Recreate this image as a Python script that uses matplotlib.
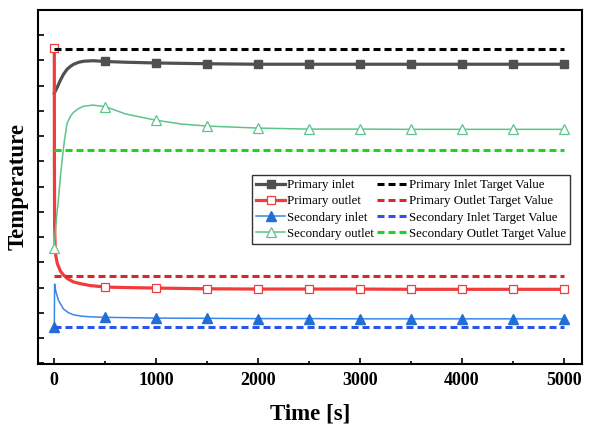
import numpy as np
import matplotlib.pyplot as plt
from matplotlib.ticker import MultipleLocator

plt.rcParams['font.family'] = ['Liberation Serif', 'DejaVu Serif']

# Datos (unidades arbitrarias de temperatura)
t_pin = [0, 30, 60, 90, 125, 160, 190, 240, 290, 380, 500, 700, 1000, 1500, 2000,
         2500, 3000, 3500, 4000, 4500, 5000]
pin = [9.70, 9.95, 10.22, 10.45, 10.65, 10.77, 10.85, 10.93, 10.97, 10.99, 10.96, 10.93,
       10.90, 10.87, 10.85, 10.85, 10.85, 10.85, 10.85, 10.85, 10.85]

t_pout = [0, 1, 3, 8, 15, 30, 60, 90, 130, 190, 260, 350, 500, 700, 1000, 1500, 2000,
          2500, 3000, 3500, 4000, 4500, 5000]
pout = [11.49, 7.0, 4.5, 3.6, 3.25, 2.95, 2.65, 2.5, 2.35, 2.22, 2.15, 2.08, 2.02, 2.0,
        1.98, 1.95, 1.94, 1.94, 1.94, 1.93, 1.93, 1.93, 1.93]

t_sin = [0, 3, 15, 40, 90, 140, 190, 260, 350, 500, 1000, 1500, 2000, 2500, 3000, 3500,
         4000, 4500, 5000]
sin_ = [0.44, 2.14, 1.85, 1.5, 1.15, 1.0, 0.92, 0.87, 0.84, 0.82, 0.79, 0.78, 0.77, 0.77,
        0.76, 0.76, 0.76, 0.76, 0.76]

t_sout = [0, 10, 25, 40, 60, 80, 100, 125, 160, 190, 240, 290, 380, 500, 700, 1000, 1250,
          1500, 2000, 2500, 3000, 3500, 4000, 4500, 5000]
sout = [3.56, 4.2, 4.9, 5.47, 6.4, 7.17, 7.85, 8.5, 8.8, 8.95, 9.1, 9.19, 9.23, 9.17, 8.88,
        8.63, 8.48, 8.4, 8.32, 8.28, 8.28, 8.27, 8.27, 8.27, 8.27]

t_target = [0, 5000]
target_pin = 11.45
target_pout = 2.45
target_sin = 0.43
target_sout = 7.45

mk_times = [500, 1000, 1500, 2000, 2500, 3000, 3500, 4000, 4500, 5000]

def mark_idx(ts, with_zero):
    idx = [i for i, v in enumerate(ts) if v in mk_times]
    if with_zero:
        idx = [0] + idx
    return idx

fig = plt.figure(figsize=(5.96, 4.24), dpi=100)
ax = fig.add_axes([38/596, 1 - 364/424, 544/596, 354/424])

dash = (2.3, 1.3)
ax.plot(t_pin, pin, '-s', color='#505050', lw=2.3, ms=5.5, markevery=mark_idx(t_pin, False),
        label='Primary inlet')
ax.plot(t_pout, pout, '-s', color='#f03c3c', lw=2.3, ms=5.5, mfc='white', mew=0.9,
        markevery=mark_idx(t_pout, True), label='Primary outlet')
ax.plot(t_sin, sin_, '-^', color='#3a86e8', mec='#1f6fd6', mfc='#1f6fd6', lw=1.1, ms=7,
        markevery=mark_idx(t_sin, True), label='Secondary inlet')
ax.plot(t_sout, sout, '-^', color='#5cc48c', lw=1.1, ms=7, mfc='white', mew=0.9,
        markevery=mark_idx(t_sout, True), label='Secondary outlet')

ax.plot(t_target, [target_pin] * 2, '--', color='black', lw=2.2, dashes=dash,
        label='Primary Inlet Target Value')
ax.plot(t_target, [target_pout] * 2, '--', color='#d42a2a', lw=2.2, dashes=dash,
        label='Primary Outlet Target Value')
ax.plot(t_target, [target_sin] * 2, '--', color='#2b55e6', lw=2.2, dashes=dash,
        label='Secondary Inlet Target Value')
ax.plot(t_target, [target_sout] * 2, '--', color='#1ed41e', lw=2.2, dashes=dash,
        label='Secondary Outlet Target Value')

ax.set_xlim(-160, 5180)
ax.set_ylim(-1.03, 13)
ax.xaxis.set_major_locator(MultipleLocator(1000))
ax.xaxis.set_minor_locator(MultipleLocator(500))
ax.yaxis.set_major_locator(MultipleLocator(1))
ax.set_yticklabels([])
ax.tick_params(axis='both', which='major', direction='in', length=4, width=1.2)
ax.tick_params(axis='x', which='minor', direction='in', length=2.5, width=1.2)
ax.tick_params(axis='x', labelsize=13, pad=6)
for lab in ax.get_xticklabels():
    lab.set_fontweight('bold')
for s in ax.spines.values():
    s.set_linewidth(1.5)

ax.set_xlabel('Time [s]', fontsize=16.5, fontweight='bold', labelpad=10)
ax.set_ylabel('Temperature', fontsize=16.5, fontweight='bold', labelpad=3)

leg = ax.legend(ncol=2, loc='upper left', bbox_to_anchor=(0.393, 0.533), fontsize=9.3,
                frameon=True, fancybox=False, edgecolor='#333333', framealpha=1,
                handlelength=2.3, handletextpad=0.15, columnspacing=0.25,
                labelspacing=0.32, borderpad=0.3, borderaxespad=0)
leg.get_frame().set_linewidth(1.0)

fig.savefig('out.png', dpi=100)
